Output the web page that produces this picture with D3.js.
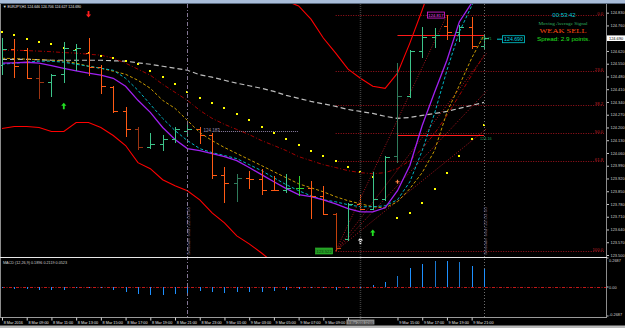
<!DOCTYPE html>
<html><head><meta charset="utf-8">
<script src="https://cdn.jsdelivr.net/npm/d3@7"></script>
<style>html,body{margin:0;padding:0;background:#000;overflow:hidden}svg{display:block}</style>
</head><body><svg id="c" width="625" height="328"></svg>
<script>
// ---------------- DATA ----------------
const symbolTitle = "\u25BC EURJPY,H1  124.646 124.706 124.627 124.690";
const opens  = [124.542,124.630,124.624,124.470,124.448,124.492,124.624,124.608,124.531,124.420,124.288,124.194,124.095,124.112,124.139,124.183,124.189,124.161,123.941,123.897,123.924,123.919,123.858,123.856,123.869,123.870,123.825,123.726,123.588,123.781,123.753,123.809,124.046,124.371,124.619,124.696,124.757,124.724,124.751,124.646];
const highs  = [124.691,124.685,124.635,124.542,124.492,124.668,124.657,124.691,124.542,124.426,124.310,124.205,124.167,124.156,124.205,124.211,124.200,124.167,123.985,123.946,123.963,123.974,123.935,123.946,123.935,123.908,123.880,123.731,123.787,123.836,123.957,124.046,124.553,124.624,124.751,124.746,124.817,124.762,124.806,124.706];
const lows   = [124.487,124.470,124.465,124.354,124.365,124.442,124.509,124.481,124.382,124.277,124.150,124.079,124.084,124.073,124.117,124.145,124.112,123.919,123.787,123.792,123.864,123.831,123.853,123.842,123.825,123.698,123.720,123.522,123.577,123.742,123.748,123.798,124.007,124.360,124.580,124.635,124.680,124.668,124.630,124.627];
const closes = [124.630,124.536,124.470,124.448,124.487,124.635,124.635,124.531,124.426,124.288,124.194,124.095,124.112,124.139,124.189,124.189,124.161,123.941,123.897,123.924,123.919,123.858,123.856,123.869,123.870,123.825,123.726,123.539,123.781,123.753,123.809,124.040,124.371,124.619,124.696,124.707,124.724,124.751,124.646,124.690];

const maFast   = [124.553,124.555,124.558,124.553,124.539,124.525,124.511,124.498,124.487,124.470,124.426,124.349,124.283,124.200,124.134,124.084,124.073,124.057,124.040,124.018,123.980,123.941,123.902,123.864,123.831,123.820,123.803,123.781,123.754,123.737,123.737,123.759,123.853,123.991,124.211,124.393,124.569,124.779,124.883,124.955];
const maCyan   = [124.547,124.553,124.558,124.564,124.564,124.558,124.547,124.536,124.525,124.514,124.470,124.404,124.327,124.250,124.183,124.128,124.084,124.062,124.046,124.029,123.996,123.963,123.924,123.886,123.853,123.825,123.803,123.792,123.776,123.765,123.765,123.770,123.803,123.902,124.073,124.277,124.514,124.724,124.867,124.983];
const maGold   = [124.580,124.578,124.575,124.572,124.569,124.564,124.553,124.536,124.525,124.509,124.492,124.459,124.415,124.349,124.305,124.239,124.172,124.128,124.090,124.057,124.024,123.991,123.957,123.924,123.891,123.869,123.847,123.820,123.798,123.781,123.765,123.759,123.792,123.864,123.952,124.073,124.283,124.431,124.580,124.707];
const maSlow   = [124.624,124.624,124.622,124.619,124.616,124.611,124.608,124.602,124.597,124.580,124.553,124.520,124.487,124.437,124.393,124.349,124.294,124.250,124.217,124.189,124.161,124.128,124.101,124.073,124.040,124.018,123.996,123.980,123.963,123.952,123.946,123.952,123.974,124.018,124.084,124.167,124.266,124.376,124.487,124.597];
const ma200    = [124.574,124.574,124.574,124.572,124.569,124.569,124.569,124.569,124.569,124.566,124.564,124.555,124.547,124.536,124.525,124.514,124.489,124.476,124.459,124.443,124.429,124.415,124.398,124.376,124.360,124.343,124.330,124.316,124.299,124.288,124.277,124.261,124.250,124.255,124.266,124.277,124.288,124.305,124.321,124.338];
const bandUpper = [null,null,null,null,null,null,null,null,null,null,null,null,null,null,null,null,null,null,null,null,null,null,124.928,124.894,124.867,124.795,124.691,124.608,124.520,124.470,124.426,124.415,124.498,124.663,124.845,125.038,null,null,null,null];
const bandLower = [124.194,124.205,124.205,124.200,124.178,124.178,124.227,124.227,124.200,124.156,124.101,124.007,123.974,123.913,123.880,123.853,123.803,123.731,123.676,123.605,123.561,123.511,123.456,123.400,null,null,null,null,null,null,null,null,null,null,null,null,null,null,null,null];
const sar = [124.724,124.707,124.685,124.668,124.657,124.635,124.624,124.608,124.591,124.580,124.564,124.547,124.509,124.476,124.437,124.393,124.360,124.332,124.305,124.272,124.239,124.205,124.172,124.139,124.106,124.073,124.046,124.018,123.985,123.958,123.930,null,123.703,123.731,123.787,123.864,123.952,124.046,124.134,124.216];
const macdHist = [-0.009,-0.016,-0.021,-0.028,-0.028,-0.025,-0.006,-0.003,-0.012,-0.031,-0.049,-0.068,-0.077,-0.077,-0.062,-0.053,-0.037,-0.046,-0.051,-0.046,-0.044,-0.044,-0.037,-0.028,-0.016,-0.012,-0.012,-0.025,-0.012,-0.003,0.016,0.046,0.102,0.176,0.213,0.241,0.241,0.232,0.195,0.167];

const priceTicks = ["124.830","124.760","124.690","124.620","124.550","124.480","124.410","124.340","124.270","124.200","124.130","124.060","123.990","123.920","123.850","123.780","123.710","123.640","123.570","123.500"];
const timeLabels = ["8 Mar 2016","8 Mar 09:00","8 Mar 11:00","8 Mar 13:00","8 Mar 15:00","8 Mar 17:00","8 Mar 19:00","8 Mar 21:00","8 Mar 23:00","9 Mar 01:00","9 Mar 03:00","9 Mar 05:00","9 Mar 07:00","9 Mar 09:00","9 Mar 11:00","9 Mar 13:00","9 Mar 15:00","9 Mar 17:00","9 Mar 19:00","9 Mar 21:00"];
const timeLabelBars = [0,2,4,6,8,10,12,14,16,18,20,22,24,26,28,30,32,34,36,38];
const cursorTimeLabel = "9 Mar 2016 12:00";
const cursorBar = 29;
const separatorBars = [15, 39];

const fibLevels = [0, 23.6, 38.2, 50.0, 61.8, 100.0];
const fibLabels = ["0.0","23.6","38.2","50.0","61.8","100.0"];
const fibLowBar = 27, fibHighBar = 36;
const fanLevels = [38.2, 50.0, 61.8];
const levelLines = [124.710, 124.161];
const levelLabels = ["124.71","124.16"];
const levelStartBar = 32;
const markerLevel = 124.183, markerLabel = "124.183", markerFrom = 17, markerTo = 25;

const sellArrowBars = [7],  sellArrowPrices = [124.823];
const buyArrowBars  = [5, 30], buyArrowPrices = [124.316, 123.621];
const whiteArrowBars = [29], whiteArrowPrices = [123.577];
const crossBars = [32], crossPrices = [123.902];

const macdTitle = "MACD (12,26,9) 0.1896 0.2119 0.0523";
const macdTicks = ["0.2687","0.00","-0.2687"];
const macdTickValues = [0.2687, 0, -0.2687];
const clockText = "00:53:42", signalTitle = "Moving Average Signal", signalText = "WEAK SELL", spreadText = "Spread: 2.9 points.";
const rotatedTexts = ["Session start 22:00:00", "Session start 22:00:00"];

// ---------------- DRAW ----------------
const svg = d3.select('#c');
const x = d3.scaleLinear().domain([0,39]).range([2,484]);
const y = d3.scaleLinear().domain([123.50,124.83]).range([255,12.7]);
const ym = d3.scaleLinear().domain([-0.2687,0.2687]).range([316,258]);
const n = opens.length;
const PR = 606; // right edge of plot
const FONT = "'Liberation Sans', Arial, sans-serif";

svg.append('rect').attr('width',625).attr('height',328).attr('fill','#000');
// top bar
svg.append('rect').attr('x',0).attr('y',0).attr('width',625).attr('height',3).attr('fill','#a9bdd9');
svg.append('line').attr('x1',0).attr('x2',625).attr('y1',3.5).attr('y2',3.5).attr('stroke','#5a6a80');

const defs = svg.append('defs');
defs.append('clipPath').attr('id','mainclip').append('rect').attr('x',1).attr('y',4).attr('width',PR-1).attr('height',253);
const main = svg.append('g').attr('clip-path','url(#mainclip)');

// vertical separator lines
separatorBars.forEach((b,i)=>{
  svg.append('line').attr('x1',Math.round(x(b))+0.5).attr('x2',Math.round(x(b))+0.5).attr('y1',4).attr('y2',317)
    .attr('stroke', i===0?'#857896':'#6e6e6e').attr('stroke-dasharray', i===0?'4,2,1,2':'1,2').attr('stroke-width',1);
});
svg.append('line').attr('x1',Math.round(x(cursorBar))+0.5).attr('x2',Math.round(x(cursorBar))+0.5).attr('y1',4).attr('y2',319)
  .attr('stroke','#3c3c3c').attr('stroke-dasharray','1,1').attr('stroke-width',1.5);

// fib retracement
const fibHigh = highs[fibHighBar], fibLow = lows[fibLowBar];
const fibPrice = l => fibHigh - (fibHigh-fibLow)*l/100;
fibLevels.forEach((l,i)=>{
  const yy = Math.round(y(fibPrice(l)))+0.5;
  main.append('line').attr('x1',x(fibLowBar)).attr('x2',604).attr('y1',yy).attr('y2',yy)
    .attr('stroke','#a3141e').attr('stroke-dasharray','1,1.5');
  svg.append('text').attr('x',603).attr('y',yy-1).attr('text-anchor','end').attr('fill','#c0202a')
    .attr('font-family',FONT).attr('font-size',4.2).text(fibLabels[i]);
});
// trend + fan lines
const lx = x(fibLowBar), ly = y(fibLow);
const hx = x(fibHighBar);
main.append('line').attr('x1',lx).attr('y1',ly).attr('x2',hx).attr('y2',y(fibHigh))
  .attr('stroke','#a3141e').attr('stroke-dasharray','1,1.5');
fanLevels.forEach(l=>{
  const ty = y(fibPrice(l));
  const ex = x(39)+3;
  const ey = ly + (ty-ly)*(ex-lx)/(hx-lx);
  main.append('line').attr('x1',lx).attr('y1',ly).attr('x2',ex).attr('y2',ey)
    .attr('stroke','#a3141e').attr('stroke-dasharray','1,1.5');
});

// marker dotted line with label
main.append('line').attr('x1',x(markerFrom)+7).attr('x2',x(markerTo)-13).attr('y1',Math.round(y(markerLevel))+0.5).attr('y2',Math.round(y(markerLevel))+0.5)
  .attr('stroke','#8e80a4').attr('stroke-dasharray','1,1');
main.append('text').attr('x',x(markerFrom)-8.5).attr('y',y(markerLevel)+1.8).attr('fill','#9a8cb0')
  .attr('font-family',FONT).attr('font-size',4.5).text(markerLabel);

// level lines
levelLines.forEach((p,i)=>{
  const yy = Math.round(y(p))+0.5;
  main.append('line').attr('x1',x(levelStartBar)).attr('x2',x(39)).attr('y1',yy).attr('y2',yy).attr('stroke','#ff1a1a').attr('stroke-width',1);
  main.append('text').attr('x',x(39)-4).attr('y',yy+4).attr('fill','#1e9a5a').attr('font-family',FONT).attr('font-size',3.8).text(levelLabels[i]);
});

// lines helper
const lineGen = d3.line().defined(d=>d!=null).x((d,i)=>x(i)).y(d=>y(d));
function drawLine(data, color, width, dash){
  const p = main.append('path').attr('d', lineGen(data)).attr('fill','none').attr('stroke',color).attr('stroke-width',width);
  if(dash) p.attr('stroke-dasharray',dash);
}
drawLine(ma200,'#bdbdbd',1.2,'5,3');
drawLine(maSlow,'#a00000',1,'4,2,1,2');
drawLine(maGold,'#c89a00',1,'3,2');
drawLine(maCyan,'#00b4c4',1,'3,2');
drawLine(maFast,'#a020f0',1.3,null);
drawLine(bandUpper,'#ff0000',1.1,null);
drawLine(bandLower,'#ff0000',1.1,null);

// SAR dots
sar.forEach((v,i)=>{ if(v==null) return;
  main.append('rect').attr('x',Math.round(x(i))-1).attr('y',Math.round(y(v))-1).attr('width',2).attr('height',2).attr('fill','#ffff00');
});

// bars
const shade = {3:'#9a3412',11:'#9a3412',19:'#2f7a5a',32:'#2f7a5a',24:'#2ed02e',27:'#c2410c'};
const bars = main.append('g').attr('shape-rendering','crispEdges');
for(let i=0;i<n;i++){
  const xx = Math.round(x(i))+0.5;
  const bull = closes[i]>=opens[i];
  const col = shade[i] || (bull ? '#3cc48a' : '#ff5a14');
  bars.append('line').attr('x1',xx).attr('x2',xx).attr('y1',y(highs[i])).attr('y2',y(lows[i])).attr('stroke',col).attr('stroke-width',1.3);
  const yo = Math.round(y(opens[i]))+0.5, yc = Math.round(y(closes[i]))+0.5;
  bars.append('line').attr('x1',xx-4).attr('x2',xx).attr('y1',yo).attr('y2',yo).attr('stroke',col).attr('stroke-width',1.2);
  bars.append('line').attr('x1',xx).attr('x2',xx+4).attr('y1',yc).attr('y2',yc).attr('stroke',col).attr('stroke-width',1.2);
}

// arrows
function arrow(cx, cy, up, color){
  const s = up?1:-1;
  const d = `M${cx},${cy-3.5*s} L${cx+2.6},${cy-0.5*s} L${cx+0.9},${cy-0.5*s} L${cx+0.9},${cy+3*s} L${cx-0.9},${cy+3*s} L${cx-0.9},${cy-0.5*s} L${cx-2.6},${cy-0.5*s} Z`;
  main.append('path').attr('d',d).attr('fill',color);
}
sellArrowBars.forEach((b,i)=>arrow(x(b),y(sellArrowPrices[i]),false,'#ff1e1e'));
buyArrowBars.forEach((b,i)=>arrow(x(b),y(buyArrowPrices[i]),true,'#22e022'));
whiteArrowBars.forEach((b,i)=>arrow(x(b),y(whiteArrowPrices[i]),true,'#f0f0f0'));
crossBars.forEach((b,i)=>{
  const cx=x(b), cy=y(crossPrices[i]);
  main.append('path').attr('d',`M${cx-2},${cy}H${cx+2}M${cx},${cy-2}V${cy+2}`).attr('stroke','#ff8040').attr('stroke-width',1.2);
});

// high / low boxes
{
  const hy = y(fibHigh), bx = x(fibHighBar)-20;
  main.append('rect').attr('x',bx+0.5).attr('y',hy-3).attr('width',17).attr('height',6).attr('fill','#000').attr('stroke','#e020e0').attr('stroke-width',0.8);
  main.append('text').attr('x',bx+9).attr('y',hy+1.6).attr('text-anchor','middle').attr('fill','#f040f0').attr('font-family',FONT).attr('font-size',4.2).text(fibHigh.toFixed(3));
  const ly2 = y(fibLow), lbx = x(fibLowBar)-20;
  main.append('rect').attr('x',lbx).attr('y',ly2-3).attr('width',17).attr('height',6).attr('fill','#239a23').attr('stroke','#30c030').attr('stroke-width',0.6);
  main.append('text').attr('x',lbx+8.5).attr('y',ly2+1.6).attr('text-anchor','middle').attr('fill','#0a3a0a').attr('font-family',FONT).attr('font-size',4.2).text(fibLow.toFixed(3));
}

// current price box
{
  const last = closes[n-1], cy = y(last);
  svg.append('line').attr('x1',497).attr('x2',502).attr('y1',cy+1).attr('y2',cy+1).attr('stroke','#00c8d0');
  svg.append('rect').attr('x',502.5).attr('y',cy-2.5).attr('width',22).attr('height',7).attr('fill','#000').attr('stroke','#00c8d0').attr('stroke-width',0.8);
  svg.append('text').attr('x',513.5).attr('y',cy+3).attr('text-anchor','middle').attr('fill','#00d8e0').attr('font-family',FONT).attr('font-size',5.2).text(last.toFixed(3));
}

// info texts
svg.append('text').attr('x',564).attr('y',17).attr('text-anchor','middle').attr('fill','#00c8d8').attr('font-family',FONT).attr('font-size',6).text(clockText);
svg.append('text').attr('x',563).attr('y',24.5).attr('text-anchor','middle').attr('fill','#2fb060').attr('font-family',"'Liberation Serif', serif").attr('font-size',4.3).attr('textLength',49).attr('lengthAdjust','spacingAndGlyphs').text(signalTitle);
svg.append('text').attr('x',563).attr('y',33).attr('text-anchor','middle').attr('fill','#ff4a10').attr('font-family',"'Liberation Serif', serif").attr('font-size',6.6).attr('textLength',47).attr('lengthAdjust','spacingAndGlyphs').text(signalText);
svg.append('text').attr('x',563.5).attr('y',40.5).attr('text-anchor','middle').attr('fill','#22e022').attr('font-family',FONT).attr('font-size',5.4).attr('textLength',53).attr('lengthAdjust','spacingAndGlyphs').text(spreadText);

// title
svg.append('text').attr('x',3).attr('y',8).attr('fill','#e8e8e8').attr('font-family',FONT).attr('font-size',3.9).attr('textLength',78).attr('lengthAdjust','spacingAndGlyphs').text(symbolTitle);

// rotated texts
separatorBars.forEach((b,i)=>{
  const xx = x(b)+3;
  svg.append('text').attr('transform',`translate(${xx},255) rotate(-90)`).attr('fill','#8a7a9a').attr('font-family',FONT).attr('font-size',3.6).attr('textLength',48).attr('lengthAdjust','spacingAndGlyphs').text(rotatedTexts[i]);
});

// borders
svg.append('line').attr('x1',0.5).attr('x2',0.5).attr('y1',4).attr('y2',317).attr('stroke','#8c8c8c');
svg.append('line').attr('x1',606.5).attr('x2',606.5).attr('y1',4).attr('y2',317).attr('stroke','#8c8c8c');

// right price axis
const yAxis = d3.axisRight(y).tickValues(priceTicks.map(Number)).tickFormat((d,i)=>priceTicks[i]).tickSize(2).tickPadding(1.5);
const ga = svg.append('g').attr('transform','translate(607,0)').call(yAxis);
ga.select('.domain').remove();
ga.selectAll('line').attr('stroke','#c8c8c8');
ga.selectAll('text').attr('fill','#d0d0d0').attr('font-family',FONT).attr('font-size',3.9);
// current price on axis
{
  const cy = y(closes[n-1]);
  svg.append('rect').attr('x',607).attr('y',cy-2.8).attr('width',18).attr('height',5.6).attr('fill','#ffffff');
  svg.append('text').attr('x',609).attr('y',cy+1.5).attr('fill','#000').attr('font-family',FONT).attr('font-size',3.9).text(closes[n-1].toFixed(3));
}

// ---------------- MACD ----------------
svg.append('line').attr('x1',0).attr('x2',607).attr('y1',257.5).attr('y2',257.5).attr('stroke','#e8e8e8').attr('stroke-width',1.2);
svg.append('line').attr('x1',2).attr('x2',PR).attr('y1',Math.round(ym(0))+0.5).attr('y2',Math.round(ym(0))+0.5)
  .attr('stroke','#c01818').attr('stroke-dasharray','3,1.5,1,1.5');
const mg = svg.append('g').attr('shape-rendering','crispEdges');
macdHist.forEach((v,i)=>{
  const x0 = Math.round(x(i));
  const y0 = ym(0), y1 = ym(v);
  mg.append('rect').attr('x',x0-0.5).attr('y',Math.min(y0,y1)).attr('width',1.8).attr('height',Math.max(0.6,Math.abs(y1-y0)))
    .attr('fill', (i===35||i===37||i===32)?'#1a78d0':'#1e90ff');
});
svg.append('text').attr('x',3).attr('y',263.5).attr('fill','#d0d0d0').attr('font-family',FONT).attr('font-size',3.6).attr('textLength',64).attr('lengthAdjust','spacingAndGlyphs').text(macdTitle);
macdTickValues.forEach((v,i)=>{
  const yy = ym(v);
  svg.append('text').attr('x',609).attr('y', i===0? yy+3.5 : i===2 ? yy : yy+1.5).attr('fill','#d0d0d0').attr('font-family',FONT).attr('font-size',3.9).text(macdTicks[i]);
  svg.append('line').attr('x1',607).attr('x2',608.5).attr('y1',yy).attr('y2',yy).attr('stroke','#c8c8c8');
});

// ---------------- TIME AXIS ----------------
svg.append('line').attr('x1',0).attr('x2',607).attr('y1',317.5).attr('y2',317.5).attr('stroke','#9a9a9a');
// the label under the cursor is replaced by the highlighted cursor time
const shownBars = timeLabelBars.filter(b => Math.abs(b - cursorBar) > 1);
const xAxis = d3.axisBottom(x).tickValues(shownBars).tickFormat(d=>timeLabels[timeLabelBars.indexOf(d)]).tickSize(3).tickPadding(0);
const gx = svg.append('g').attr('transform','translate(0,317.5)').call(xAxis);
gx.select('.domain').remove();
gx.selectAll('line').attr('stroke','#d0d0d0');
gx.selectAll('text').attr('fill','#e0e0e0').attr('font-family',FONT).attr('font-size',3.8).attr('text-anchor','start').attr('dx',1.2).attr('dy',0).attr('y',6.5);
// cursor time highlight
{
  const cx = x(cursorBar);
  svg.append('line').attr('x1',Math.round(x(28))+0.5).attr('x2',Math.round(x(28))+0.5).attr('y1',317.5).attr('y2',320.5).attr('stroke','#d0d0d0');
  svg.append('rect').attr('x',cx-14).attr('y',319.5).attr('width',28).attr('height',5).attr('fill','#8c8c8c');
  svg.append('text').attr('x',cx).attr('y',323.6).attr('text-anchor','middle').attr('fill','#202020').attr('font-family',FONT).attr('font-size',3.8).attr('textLength',25).attr('lengthAdjust','spacingAndGlyphs').text(cursorTimeLabel);
}
svg.append('rect').attr('x',0).attr('y',325.5).attr('width',625).attr('height',2.5).attr('fill','#b8b8b8');
</script>
</body></html>
